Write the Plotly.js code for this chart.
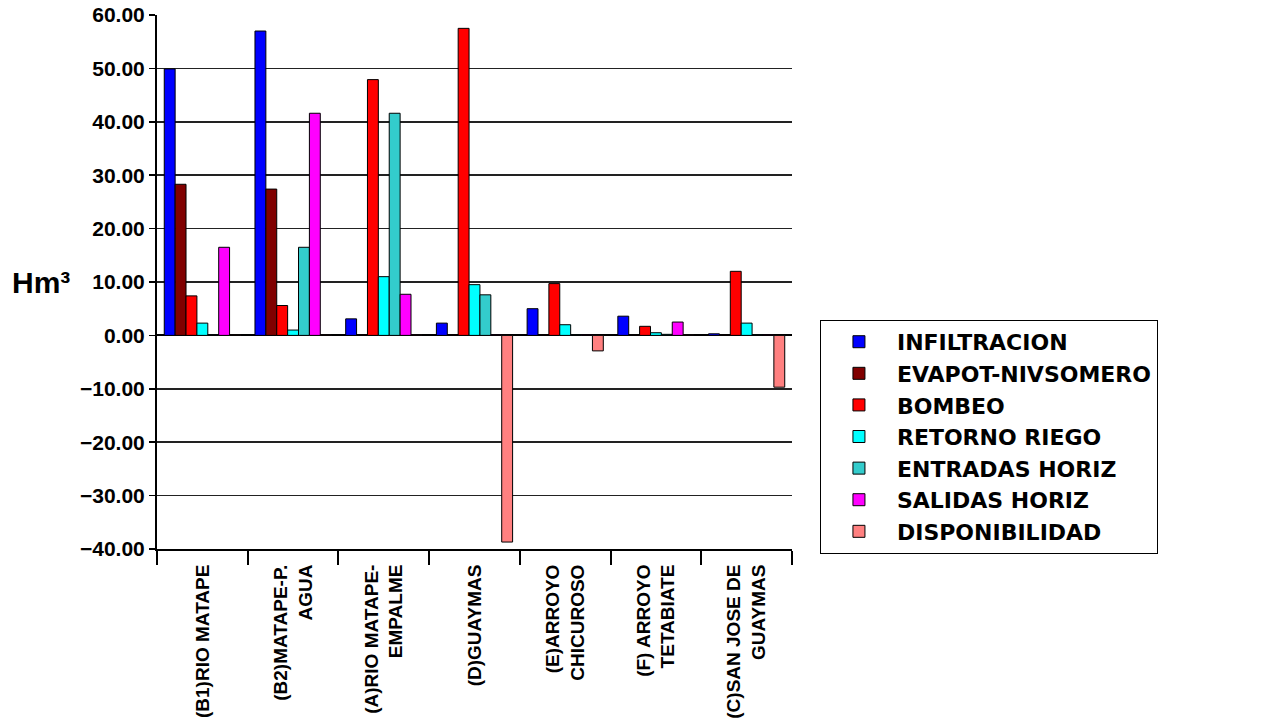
<!DOCTYPE html>
<html>
<head>
<meta charset="utf-8">
<script src="https://cdn.plot.ly/plotly-3.0.1.min.js"></script>
<style>body{margin:0;background:#fff}#chart{width:1263px;height:722px}</style>
</head>
<body>
<div id="chart"></div>
<script>
const categories = [
  "(B1)RIO MATAPE",
  "(B2)MATAPE-P.<br>AGUA",
  "(A)RIO MATAPE-<br>EMPALME",
  "(D)GUAYMAS",
  "(E)ARROYO<br>CHICUROSO",
  "(F) ARROYO<br>TETABIATE",
  "(C)SAN JOSE DE<br>GUAYMAS"
];
const infiltracion   = [49.9, 57.0, 3.1, 2.3, 5.0, 3.6, 0.3];
const evapot         = [28.3, 27.4, 0.1, 0.1, 0.1, 0.1, 0.1];
const bombeo         = [7.4, 5.6, 47.9, 57.5, 9.7, 1.7, 12.0];
const retornoRiego   = [2.3, 1.0, 11.0, 9.5, 2.0, 0.5, 2.3];
const entradasHoriz  = [0.1, 16.5, 41.6, 7.6, 0.1, 0.2, 0.1];
const salidasHoriz   = [16.5, 41.6, 7.7, 0.1, 0.1, 2.5, 0.1];
const disponibilidad = [0.1, 0.1, 0.1, -38.7, -2.9, 0.1, -9.7];

const seriesNames  = ["INFILTRACION","EVAPOT-NIVSOMERO","BOMBEO","RETORNO RIEGO","ENTRADAS HORIZ","SALIDAS HORIZ","DISPONIBILIDAD"];
const seriesValues = [infiltracion, evapot, bombeo, retornoRiego, entradasHoriz, salidasHoriz, disponibilidad];
const seriesColors = ["#0000FF","#800000","#FF0000","#00FFFF","#33CCCC","#FF00FF","#FF8080"];

const FONT = "Liberation Sans, Arial, sans-serif";
const LEGEND_FONT = "DejaVu Sans, Liberation Sans, Arial, sans-serif";

const traces = seriesNames.map((n, i) => ({
  type: "bar",
  name: n,
  x: categories,
  y: seriesValues[i],
  marker: {color: seriesColors[i], line: {color: "#000", width: 1}},
  hoverinfo: "x+y+name"
}));

const layout = {
  width: 1263, height: 722,
  margin: {l: 157, r: 471, t: 15, b: 173},
  paper_bgcolor: "#fff", plot_bgcolor: "#fff",
  barmode: "group",
  bargap: 0.16,
  bargroupgap: 0,
  font: {family: FONT, color: "#000", weight: 700},
  xaxis: {
    type: "category",
    showline: true, linecolor: "#000", linewidth: 2,
    ticks: "outside", ticklen: 14, tickwidth: 2, tickcolor: "#000",
    tickson: "boundaries",
    tickangle: -90,
    ticklabelstandoff: 6,
    tickfont: {size: 19, family: FONT, weight: 700},
    showgrid: false,
    zeroline: false
  },
  yaxis: {
    range: [-40, 60],
    dtick: 10,
    tick0: 0,
    tickformat: ".2f",
    showline: true, linecolor: "#000", linewidth: 2,
    ticks: "outside", ticklen: 6, tickwidth: 1.5, tickcolor: "#000",
    tickfont: {size: 21, family: FONT, weight: 700},
    showgrid: true, gridcolor: "#222", gridwidth: 1.5,
    zeroline: true, zerolinecolor: "#000", zerolinewidth: 2
  },
  legend: {
    x: 1.044, y: 0.429, xanchor: "left", yanchor: "top",
    bordercolor: "#000", borderwidth: 1,
    bgcolor: "#fff",
    font: {size: 22, family: LEGEND_FONT, weight: 700},
    tracegroupgap: 0,
    itemwidth: 66
  },
  annotations: [{
    text: "Hm³", xref: "paper", yref: "y",
    x: -0.232, xanchor: "left", y: 10, showarrow: false,
    font: {size: 30, family: FONT, weight: 700}
  }],
  showlegend: true
};

Plotly.newPlot("chart", traces, layout, {displayModeBar: false, staticPlot: true});
</script>
</body>
</html>
